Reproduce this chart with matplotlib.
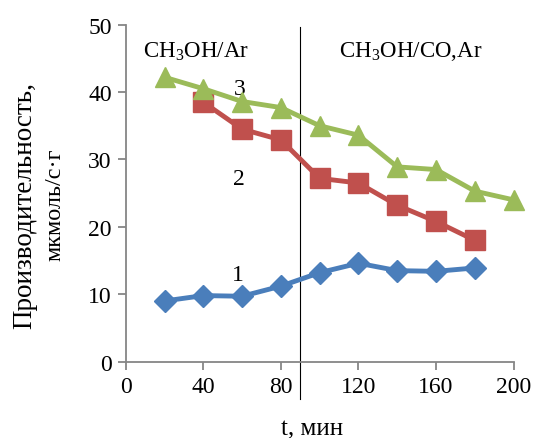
import numpy as np
import matplotlib.pyplot as plt

plt.rcParams['font.family'] = ['Liberation Serif', 'DejaVu Serif']
plt.rcParams['mathtext.fontset'] = 'custom'
plt.rcParams['mathtext.rm'] = 'Liberation Serif'

# data
t1 = [20, 40, 60, 80, 100, 120, 140, 160, 180]
v1 = [9.0, 9.8, 9.7, 11.2, 13.2, 14.6, 13.5, 13.4, 13.9]

t2 = [40, 60, 80, 100, 120, 140, 160, 180]
v2 = [38.5, 34.5, 32.9, 27.2, 26.5, 23.2, 20.8, 18.0]

t3 = [20, 40, 60, 80, 100, 120, 140, 160, 180, 200]
v3 = [42.2, 40.5, 38.6, 37.7, 35.0, 33.6, 28.9, 28.5, 25.3, 24.0]

t_switch = 90

fig = plt.figure(figsize=(5.35, 4.39), dpi=100)
ax = fig.add_axes([0.235, 0.174, 0.725, 0.7675])

ax.plot(t1, v1, '-D', color='#4A7EBB', lw=3.5, ms=11.5, clip_on=False, zorder=3)
ax.plot(t2, v2, '-s', color='#C0504D', lw=3.5, ms=14, clip_on=False, zorder=3)
ax.plot(t3, v3, '-^', color='#9BBB59', lw=3.5, ms=14.5, clip_on=False, zorder=4)

ax.axvline(t_switch, ymin=-0.11, ymax=0.994, color='black', lw=0.8, clip_on=False)

ax.set_xlim(0, 200)
ax.set_ylim(0, 50)
ax.set_xticks([0, 40, 80, 120, 160, 200])
ax.set_yticks([0, 10, 20, 30, 40, 50])
for s in ['top', 'right']:
    ax.spines[s].set_visible(False)
for s in ['left', 'bottom']:
    ax.spines[s].set_color('#868686')
    ax.spines[s].set_linewidth(1.3)
ax.tick_params(direction='out', length=6, width=1.3, color='#868686',
               labelsize=17, pad=4)

ax.text(36, 46.2, 'CH$_3$OH/Ar', fontsize=16.5, ha='center', va='center')
ax.text(147, 46.2, 'CH$_3$OH/CO,Ar', fontsize=16.5, ha='center', va='center')
ax.text(59, 40.5, '3', fontsize=17, ha='center', va='center')
ax.text(58.5, 27.1, '2', fontsize=17, ha='center', va='center')
ax.text(58, 12.9, '1', fontsize=17, ha='center', va='center')

fig.text(0.047, 0.533, 'Производительность,', rotation=90, fontsize=19.5,
         ha='center', va='center')
fig.text(0.103, 0.533, 'мкмоль/с·г', rotation=90, fontsize=17.5,
         ha='center', va='center')
fig.text(0.583, 0.022, 't, мин', fontsize=18, ha='center', va='center')

fig.savefig('out.png', dpi=100)
